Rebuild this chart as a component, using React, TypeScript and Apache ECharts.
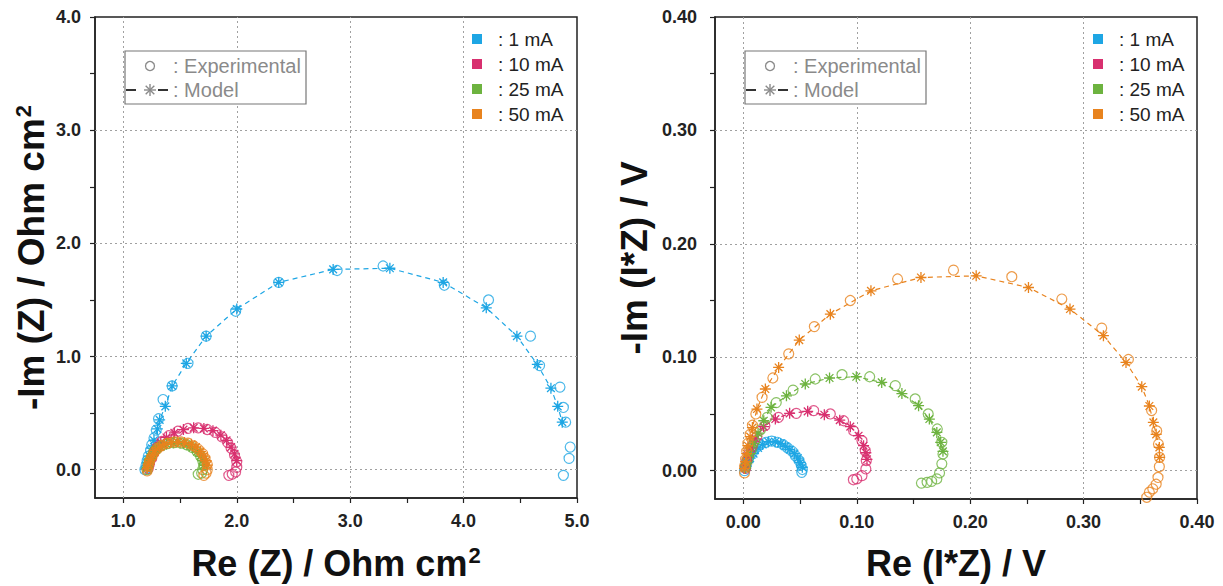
import React, { useEffect, useRef } from "react";
import * as echarts from "echarts";

// Currents and their colours
const CURRENTS = ["1 mA", "10 mA", "25 mA", "50 mA"];
const COLORS = ["#1EA6E4", "#D8306F", "#6DB33F", "#E8831E"];

// Impedance spectra, Re(Z) / -Im(Z) in Ohm cm²  (experimental points)
const Z_EXP_1 = [[1.19,0.0],[1.2,0.04],[1.21,0.08],[1.22,0.12],[1.24,0.17],[1.25,0.22],[1.27,0.28],[1.29,0.35],[1.31,0.45],[1.35,0.62],[1.43,0.74],[1.57,0.94],[1.73,1.18],[1.99,1.4],[2.37,1.655],[2.885,1.76],[3.29,1.8],[3.83,1.63],[4.22,1.5],[4.59,1.18],[4.67,0.92],[4.85,0.73],[4.88,0.55],[4.9,0.42],[4.94,0.2],[4.93,0.1],[4.88,-0.05]];
const Z_EXP_10 = [[1.22,0.01],[1.23,0.05],[1.25,0.1],[1.27,0.15],[1.3,0.2],[1.34,0.25],[1.4,0.3],[1.48,0.34],[1.57,0.365],[1.66,0.37],[1.74,0.355],[1.81,0.33],[1.87,0.29],[1.92,0.24],[1.95,0.19],[1.98,0.13],[2.0,0.07],[2.0,0.02],[1.99,-0.02],[1.96,-0.04],[1.93,-0.05]];
const Z_EXP_25 = [[1.21,0.0],[1.22,0.04],[1.23,0.08],[1.25,0.12],[1.27,0.16],[1.3,0.19],[1.34,0.215],[1.39,0.23],[1.45,0.24],[1.51,0.235],[1.56,0.22],[1.61,0.195],[1.65,0.16],[1.68,0.12],[1.7,0.08],[1.71,0.04],[1.7,0.0],[1.69,-0.03],[1.66,-0.04]];
const Z_EXP_50 = [[1.21,-0.01],[1.22,0.03],[1.23,0.07],[1.25,0.11],[1.27,0.15],[1.3,0.185],[1.34,0.215],[1.39,0.235],[1.45,0.245],[1.51,0.245],[1.57,0.235],[1.62,0.21],[1.66,0.18],[1.7,0.14],[1.72,0.1],[1.74,0.05],[1.74,0.0],[1.73,-0.03],[1.71,-0.05]];

// Impedance spectra, model fit
const Z_MOD_1 = [[1.2,0.01],[1.21,0.06],[1.23,0.12],[1.25,0.19],[1.27,0.26],[1.3,0.36],[1.32,0.44],[1.37,0.56],[1.43,0.74],[1.555,0.94],[1.73,1.18],[2.0,1.42],[2.37,1.655],[2.85,1.77],[3.35,1.78],[3.82,1.655],[4.2,1.43],[4.47,1.18],[4.65,0.93],[4.77,0.72],[4.83,0.56],[4.87,0.42]];
const Z_MOD_10 = [[1.22,0.03],[1.24,0.08],[1.26,0.13],[1.29,0.19],[1.33,0.24],[1.38,0.285],[1.45,0.325],[1.53,0.355],[1.62,0.37],[1.71,0.365],[1.79,0.345],[1.86,0.305],[1.91,0.26],[1.95,0.2],[1.98,0.14],[2.0,0.08]];
const Z_MOD_25 = [[1.21,0.02],[1.22,0.06],[1.24,0.1],[1.26,0.14],[1.29,0.175],[1.33,0.205],[1.38,0.225],[1.44,0.235],[1.5,0.235],[1.56,0.22],[1.61,0.195],[1.65,0.16],[1.68,0.12],[1.7,0.08],[1.71,0.04]];
const Z_MOD_50 = [[1.21,0.01],[1.22,0.05],[1.24,0.09],[1.26,0.13],[1.28,0.17],[1.32,0.2],[1.36,0.225],[1.42,0.24],[1.48,0.245],[1.54,0.24],[1.6,0.225],[1.64,0.2],[1.68,0.16],[1.71,0.12],[1.73,0.08],[1.74,0.04]];

// Voltage response, Re(I*Z) / -Im(I*Z) in V  (experimental points)
const V_EXP_1 = [[0.001,0.0],[0.002,0.004],[0.003,0.008],[0.005,0.012],[0.008,0.016],[0.011,0.02],[0.015,0.023],[0.02,0.025],[0.025,0.026],[0.03,0.025],[0.035,0.023],[0.039,0.02],[0.043,0.017],[0.046,0.013],[0.049,0.009],[0.051,0.005],[0.052,0.001],[0.0515,-0.0015]];
const V_EXP_10 = [[0.002,0.002],[0.003,0.008],[0.005,0.015],[0.008,0.022],[0.012,0.03],[0.019,0.0396],[0.031,0.047],[0.0467,0.0505],[0.062,0.0529],[0.0767,0.05],[0.0884,0.044],[0.0972,0.0352],[0.1046,0.0264],[0.1075,0.0176],[0.1084,0.0088],[0.108,0.0015],[0.1046,-0.0044],[0.1,-0.0073],[0.097,-0.008]];
const V_EXP_25 = [[0.002,0.003],[0.004,0.01],[0.007,0.018],[0.01,0.026],[0.015,0.036],[0.021,0.047],[0.029,0.06],[0.0438,0.071],[0.0634,0.0808],[0.087,0.0846],[0.1114,0.0828],[0.134,0.075],[0.1515,0.0632],[0.163,0.05],[0.171,0.0367],[0.175,0.025],[0.176,0.0147],[0.175,0.006],[0.173,-0.002],[0.1706,-0.0073],[0.166,-0.0095],[0.162,-0.0103],[0.157,-0.011]];
const V_EXP_50 = [[0.001,-0.002],[0.001,0.004],[0.002,0.01],[0.003,0.017],[0.004,0.024],[0.006,0.032],[0.008,0.04],[0.011,0.05],[0.0165,0.0646],[0.026,0.0817],[0.04,0.103],[0.0626,0.127],[0.0943,0.15],[0.136,0.169],[0.1853,0.1768],[0.2367,0.171],[0.2808,0.1513],[0.316,0.1257],[0.3395,0.098],[0.36,0.053],[0.3645,0.035],[0.366,0.0235],[0.367,0.0117],[0.3668,0.0035],[0.3656,-0.006],[0.364,-0.012],[0.361,-0.016],[0.358,-0.019],[0.3557,-0.0235]];

// Voltage response, model fit
const V_MOD_1 = [[0.002,0.002],[0.004,0.007],[0.006,0.011],[0.009,0.015],[0.013,0.02],[0.017,0.023],[0.022,0.0255],[0.028,0.0255],[0.033,0.024],[0.037,0.0215],[0.041,0.0185],[0.045,0.015],[0.048,0.011],[0.05,0.007],[0.052,0.003]];
const V_MOD_10 = [[0.002,0.005],[0.004,0.012],[0.007,0.02],[0.011,0.028],[0.0179,0.0388],[0.0282,0.0455],[0.0408,0.0505],[0.0567,0.0523],[0.0714,0.0493],[0.085,0.0445],[0.0943,0.0388],[0.1016,0.0308],[0.106,0.022],[0.108,0.0158],[0.109,0.01]];
const V_MOD_25 = [[0.003,0.006],[0.006,0.015],[0.009,0.024],[0.013,0.033],[0.018,0.044],[0.0244,0.0558],[0.038,0.066],[0.0546,0.0764],[0.076,0.0817],[0.0996,0.0828],[0.122,0.0778],[0.1398,0.068],[0.1545,0.0573],[0.164,0.0455],[0.1706,0.0337],[0.174,0.025],[0.176,0.017]];
const V_MOD_50 = [[0.001,0.002],[0.002,0.008],[0.003,0.015],[0.004,0.022],[0.006,0.03],[0.008,0.038],[0.012,0.0543],[0.0194,0.072],[0.0311,0.091],[0.0493,0.1151],[0.0767,0.138],[0.1125,0.1586],[0.1566,0.1703],[0.2053,0.1718],[0.2514,0.1615],[0.288,0.1425],[0.3175,0.119],[0.3374,0.0954],[0.3513,0.074],[0.358,0.057],[0.3615,0.0426],[0.364,0.032],[0.3668,0.0205],[0.367,0.0117]];

// Axis ticks and labels
const Z_X_LABELS = [1, 2, 3, 4, 5];
const Z_X_TICKS = [1, 1.5, 2, 2.5, 3, 3.5, 4, 4.5, 5];
const Z_Y_LABELS = [0, 1, 2, 3, 4];
const Z_Y_TICKS = [0, 0.5, 1, 1.5, 2, 2.5, 3, 3.5, 4];
const V_X_LABELS = [0, 0.1, 0.2, 0.3, 0.4];
const V_X_TICKS = [0, 0.05, 0.1, 0.15, 0.2, 0.25, 0.3, 0.35, 0.4];
const V_Y_LABELS = [0, 0.1, 0.2, 0.3, 0.4];
const V_Y_TICKS = [0, 0.05, 0.1, 0.15, 0.2, 0.25, 0.3, 0.35, 0.4];

const FONT = '"Liberation Sans", Arial, Helvetica, sans-serif';
const ASTERISK = "path://M5 0L5 10M0 5L10 5M1.5 1.5L8.5 8.5M8.5 1.5L1.5 8.5";

const Z_EXP = [Z_EXP_1, Z_EXP_10, Z_EXP_25, Z_EXP_50];
const Z_MOD = [Z_MOD_1, Z_MOD_10, Z_MOD_25, Z_MOD_50];
const V_EXP = [V_EXP_1, V_EXP_10, V_EXP_25, V_EXP_50];
const V_MOD = [V_MOD_1, V_MOD_10, V_MOD_25, V_MOD_50];

function axis(
  idx: number,
  min: number,
  max: number,
  ticks: number[],
  labels: number[],
  digits: number,
  name: string,
  nameGap: number,
  nameSize: number,
  labelMargin: number
) {
  return {
    type: "value",
    gridIndex: idx,
    min,
    max,
    name,
    nameLocation: "middle",
    nameGap,
    nameTextStyle: {
      fontFamily: FONT,
      fontWeight: "bold",
      fontSize: nameSize,
      color: "#111",
      rich: {
        sup: {
          fontFamily: FONT,
          fontWeight: "bold",
          fontSize: Math.round(nameSize * 0.6),
          color: "#111",
          verticalAlign: "top",
          padding: [0, 0, Math.round(nameSize * 0.45), 1],
        },
      },
    },
    axisLine: { show: true, onZero: false, lineStyle: { color: "#222", width: 1.5 } },
    axisTick: { show: true, length: 5, customValues: ticks, lineStyle: { color: "#222", width: 1.2 } },
    axisLabel: {
      customValues: labels,
      formatter: (v: number) => v.toFixed(digits),
      fontFamily: FONT,
      fontWeight: "bold",
      fontSize: 18,
      color: "#222",
      margin: labelMargin,
    },
    splitLine: { show: false },
  };
}

function gridLines(idx: number, xs: number[], ys: number[]) {
  return {
    type: "line",
    name: "grid" + idx,
    xAxisIndex: idx,
    yAxisIndex: idx,
    data: [],
    silent: true,
    markLine: {
      silent: true,
      z: 1,
      symbol: ["none", "none"],
      label: { show: false },
      emphasis: { disabled: true },
      lineStyle: { color: "#a0a0a0", type: [2, 3], width: 1 },
      data: [...xs.map((v) => ({ xAxis: v })), ...ys.map((v) => ({ yAxis: v }))],
    },
  };
}

function panelSeries(idx: number, exp: number[][][], mod: number[][][]) {
  const out: any[] = [];
  CURRENTS.forEach((name, k) => {
    const c = COLORS[k];
    out.push({
      type: "line",
      name,
      xAxisIndex: idx,
      yAxisIndex: idx,
      data: mod[k],
      z: 3,
      symbol: ASTERISK,
      symbolSize: 11,
      showSymbol: true,
      lineStyle: { color: c, width: 1.2, type: [5, 4] },
      itemStyle: { color: c, borderColor: c, borderWidth: 1.3 },
    });
    out.push({
      type: "scatter",
      name,
      xAxisIndex: idx,
      yAxisIndex: idx,
      data: exp[k],
      z: 3,
      symbol: "circle",
      symbolSize: 10,
      itemStyle: { color: "rgba(0,0,0,0)", borderColor: c, borderWidth: 1.2 },
    });
  });
  return out;
}

function keyBox(left: number) {
  const gray = "#8a8a8a";
  const cx = left + 25;
  const ay = 90;
  const arm = 6;
  return [
    {
      type: "rect",
      shape: { x: left, y: 51, width: 181, height: 53 },
      style: { fill: "#fff", stroke: "#777", lineWidth: 1.2 },
      z: 10,
    },
    {
      type: "circle",
      shape: { cx, cy: 66, r: 4.5 },
      style: { fill: "none", stroke: gray, lineWidth: 1.3 },
      z: 11,
    },
    {
      type: "text",
      x: left + 48,
      y: 66,
      style: { text: ": Experimental", font: `20px ${FONT}`, fill: gray, verticalAlign: "middle" },
      z: 11,
    },
    { type: "line", shape: { x1: left + 1, y1: ay, x2: left + 11, y2: ay }, style: { stroke: "#333", lineWidth: 2 }, z: 11 },
    { type: "line", shape: { x1: cx + 8, y1: ay, x2: cx + 18, y2: ay }, style: { stroke: "#333", lineWidth: 2 }, z: 11 },
    { type: "line", shape: { x1: cx - arm, y1: ay, x2: cx + arm, y2: ay }, style: { stroke: gray, lineWidth: 1.4 }, z: 11 },
    { type: "line", shape: { x1: cx, y1: ay - arm, x2: cx, y2: ay + arm }, style: { stroke: gray, lineWidth: 1.4 }, z: 11 },
    { type: "line", shape: { x1: cx - 4.3, y1: ay - 4.3, x2: cx + 4.3, y2: ay + 4.3 }, style: { stroke: gray, lineWidth: 1.4 }, z: 11 },
    { type: "line", shape: { x1: cx + 4.3, y1: ay - 4.3, x2: cx - 4.3, y2: ay + 4.3 }, style: { stroke: gray, lineWidth: 1.4 }, z: 11 },
    {
      type: "text",
      x: left + 48,
      y: ay,
      style: { text: ": Model", font: `20px ${FONT}`, fill: gray, verticalAlign: "middle" },
      z: 11,
    },
  ];
}

function currentLegend(left: number) {
  return {
    left,
    top: 29,
    orient: "vertical",
    padding: 0,
    icon: "rect",
    itemWidth: 10,
    itemHeight: 10,
    itemGap: 5,
    selectedMode: false,
    data: CURRENTS.map((n, k) => ({ name: n, itemStyle: { color: COLORS[k], borderWidth: 0 } })),
    formatter: ": {name}",
    textStyle: { fontFamily: FONT, fontSize: 19, color: "#222", lineHeight: 20, padding: [0, 0, 0, 11] },
  };
}

export default function App() {
  const ref = useRef<HTMLDivElement>(null);

  useEffect(() => {
    if (!ref.current) return;
    const chart = echarts.init(ref.current, undefined, { renderer: "svg" });
    const option: any = {
      animation: false,
      backgroundColor: "#fff",
      grid: [
        { left: 95, top: 17, width: 482, height: 482, show: true, borderColor: "#222", borderWidth: 1.5, backgroundColor: "transparent" },
        { left: 715, top: 17, width: 482, height: 482, show: true, borderColor: "#222", borderWidth: 1.5, backgroundColor: "transparent" },
      ],
      xAxis: [
        axis(0, 0.75, 5, Z_X_TICKS, Z_X_LABELS, 1, "Re (Z) / Ohm cm{sup|2}", 46, 36, 14),
        axis(1, -0.025, 0.4, V_X_TICKS, V_X_LABELS, 2, "Re (I*Z) / V", 46, 36, 14),
      ],
      yAxis: [
        axis(0, -0.25, 4, Z_Y_TICKS, Z_Y_LABELS, 1, "-Im (Z) / Ohm cm{sup|2}", 44, 37, 14),
        axis(1, -0.025, 0.4, V_Y_TICKS, V_Y_LABELS, 2, "-Im (I*Z) / V", 62, 37, 18),
      ],
      legend: [currentLegend(472), currentLegend(1093)],
      series: [
        gridLines(0, [1, 2, 3, 4], [0, 1, 2, 3]),
        gridLines(1, [0, 0.1, 0.2, 0.3], [0, 0.1, 0.2, 0.3]),
        ...panelSeries(0, Z_EXP, Z_MOD),
        ...panelSeries(1, V_EXP, V_MOD),
      ],
      graphic: [...keyBox(125), ...keyBox(745)],
    };
    chart.setOption(option);
    return () => chart.dispose();
  }, []);

  return (
    <div
      ref={ref}
      style={{ position: "absolute", left: 0, top: 0, width: 1223, height: 586 }}
    />
  );
}
